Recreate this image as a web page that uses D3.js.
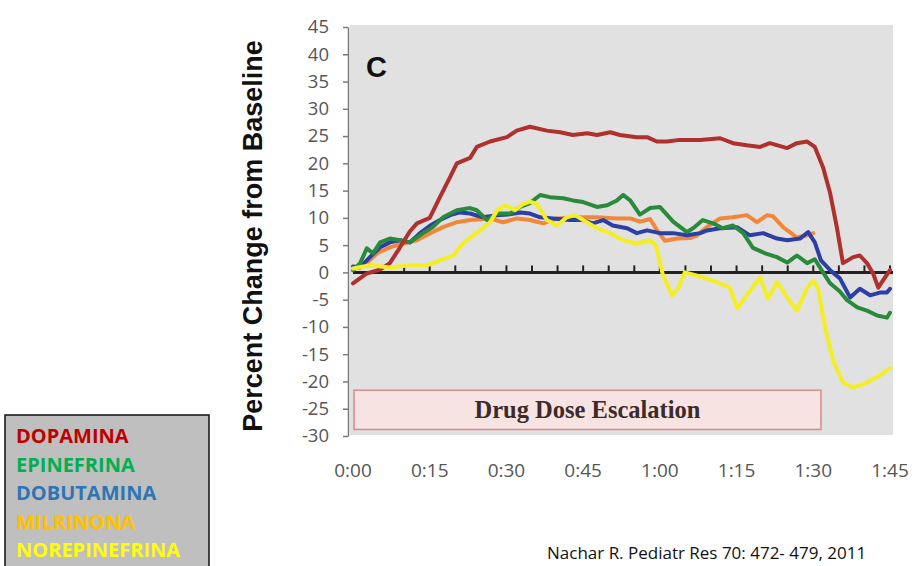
<!DOCTYPE html>
<html>
<head>
<meta charset="utf-8">
<script src="https://cdn.jsdelivr.net/npm/d3@7/dist/d3.min.js"></script>
<style>
  body { margin: 0; background: #fff; }
  svg { display: block; }
</style>
</head>
<body>
<div id="chart"></div>
<script>
      // minutes from start, percent change from baseline
      var dopamina = [[0,-2],[2.7,-0.2],[5.3,0.5],[7.2,1.7],[9.2,4.6],[11.1,7.5],[12.5,9],[15,10],[17,13.8],[19,17.5],[20.3,20],[22.9,21],[24.2,23],[26.8,24],[30.1,24.8],[32,26],[34.6,26.7],[37.9,26],[40.5,25.7],[43,25.2],[45.8,25.5],[47.7,25.2],[50.3,25.7],[52.2,25.2],[55.5,24.8],[57.5,24.8],[59.4,24],[61.4,24],[63.9,24.3],[67.9,24.3],[71.8,24.6],[74.3,23.7],[77,23.3],[79.6,23],[81.5,23.7],[84.9,22.8],[86.8,23.7],[88.8,24],[90.3,23],[91.9,19.3],[93.3,14.5],[94.6,8.3],[95.8,1.7],[97.8,2.8],[99.1,3.1],[100.5,1.7],[101.7,-0.2],[102.7,-2.8],[103.6,-1.5],[105,0.4]];
      var epinefrina = [[0,0.4],[1.4,1.7],[2.7,4.4],[3.9,3.5],[5.3,5.5],[7.2,6.2],[9.2,5.9],[11.1,5.5],[13.7,7.2],[15.6,8.3],[17.6,10.1],[20.3,11.4],[22.9,11.8],[24.2,11.4],[26.2,9.6],[28.2,10.8],[30.7,10.8],[32.7,12],[34.6,12.7],[36.6,14.2],[38.5,13.8],[41.1,13.6],[43,13.2],[45,12.9],[47.7,12],[49.7,12.3],[51.6,13.2],[52.8,14.2],[54.2,13.2],[56.1,10.6],[58.1,11.8],[60,12],[62.6,9.3],[65.3,7.4],[66.5,8.1],[68.4,9.6],[70.4,9],[72.3,8.1],[74.3,8.6],[76.3,7.2],[78.2,4.5],[80.6,3.5],[82.9,2.8],[84.9,1.8],[86.8,3.1],[88.8,1.7],[90.3,2.4],[91.9,0],[93.3,-2],[95.2,-3.5],[96.6,-5.1],[98.6,-6.4],[100.5,-7],[102.5,-7.9],[104.4,-8.3],[105,-7.4]];
      var dobutamina = [[0,1.1],[1.4,0.9],[3.3,2.8],[5.3,4.6],[7.2,5.5],[9.2,5.9],[11.1,5.5],[13.1,7.2],[15.1,8.6],[17,9.6],[19,10.5],[20.9,11],[22.9,10.8],[25.4,10.1],[28.2,10.5],[30.3,10.6],[32.7,11],[34.6,10.8],[36.6,10.1],[39.1,9.9],[42.4,9.6],[45,9.6],[46.9,9],[48.9,9.6],[50.8,8.6],[53.6,8.1],[55.5,7.2],[57.5,7.7],[60,7.2],[62.6,7.2],[65.3,6.8],[67.9,7.2],[69.2,7.7],[71.8,8.1],[75.1,8.3],[77.6,6.8],[80.2,7.2],[82.9,6.2],[84.9,5.9],[87.4,6.2],[89,7.4],[90.3,5.5],[91.5,2.2],[93.3,0.4],[95.2,-1.1],[97.2,-4.6],[99.1,-3],[101.1,-4.2],[103,-3.7],[104.4,-3.7],[105,-3]];
      var milrinona = [[0.8,0.9],[2.7,1.7],[4.7,3.5],[7.2,4.6],[9.8,5.3],[12.5,5.9],[15.1,7.2],[17.6,8.3],[20.3,9.2],[22.9,9.6],[26.8,9.9],[29.3,9.2],[32.1,9.9],[34.6,9.6],[37.2,9],[39.9,9.9],[43.8,10.1],[47.7,10.1],[51.6,9.9],[54.2,9.9],[56.1,9.3],[58.1,9.8],[59.6,7.5],[61,5.8],[63.4,6.2],[65.9,6.3],[67.3,6.8],[69.2,8.3],[71.8,9.9],[74.3,10.1],[77,10.5],[79,9.2],[81,10.5],[82.1,10.3],[84.1,8.3],[86.8,6.4],[88.8,6.8],[90,7.2]];
      var norepinefrina = [[0,0.7],[3.3,1.3],[7.2,0.9],[11.1,1.3],[14.5,1.3],[17,2.2],[19.6,3.1],[21.5,5.3],[23.5,6.8],[25.4,8.1],[26.8,9.2],[28.2,11.4],[29.7,12.3],[31.7,11.4],[33.2,12.5],[34.6,13],[36,12.5],[37.9,9.6],[39.9,8.6],[41.8,10.1],[43.4,10.5],[45,9.6],[47.7,8.1],[50.3,7.2],[52.8,5.9],[55.5,5.3],[58.1,5.9],[59.2,5],[60.6,-0.5],[62.4,-4.2],[63.6,-2.8],[64.9,0],[67.3,-0.6],[71.2,-1.8],[73.7,-2.8],[75.1,-6.6],[77,-4.2],[79.6,-0.9],[81.1,-4.8],[82.9,-1.8],[84.9,-4.6],[86.8,-7],[88.8,-2.8],[90,-1.5],[90.9,-2.8],[92.3,-10.1],[93.9,-16.2],[95.8,-20.2],[97.8,-21.1],[100.5,-20.2],[103,-18.9],[105,-17.6]];

      var seriesNames = ['DOPAMINA', 'EPINEFRINA', 'DOBUTAMINA', 'MILRINONA', 'NOREPINEFRINA'];
      var legendColors = ['#c00000', '#00b050', '#2e75b6', '#ffc000', '#ffff00'];
      var lineColors = ['#b0302e', '#2a8a3c', '#2b3fa6', '#f2873a', '#f4ee24'];
      var xTickLabels = ['0:00', '0:15', '0:30', '0:45', '1:00', '1:15', '1:30', '1:45'];
      var xTickMinutes = [0, 15, 30, 45, 60, 75, 90, 105];
      var yTickValues = [45, 40, 35, 30, 25, 20, 15, 10, 5, 0, -5, -10, -15, -20, -25, -30];
      var doseEscalation = [0.2, 91.5];

      var width = 914;
      var height = 566;

      var svg = d3.select('#chart').append('svg')
          .attr('width', width)
          .attr('height', height)
          .style('font-family', '"Open Sans", sans-serif');

      var xScale = d3.scaleLinear()
          .domain([0, 105])
          .range([353, 890]);

      var yScale = d3.scaleLinear()
          .domain([-30, 45])
          .range([436, 27]);

      // grey plot area
      svg.append('rect')
          .attr('x', xScale(0) - 3)
          .attr('y', yScale(45) - 2)
          .attr('width', xScale(105) - xScale(0) + 6)
          .attr('height', yScale(-30) - yScale(45) + 1)
          .attr('fill', '#e1e1e1');

      // left axis, plain hyphen for negatives like the original
      var yAxis = d3.axisLeft(yScale)
          .tickValues(yTickValues)
          .tickFormat(d => String(d))
          .tickSizeInner(5)
          .tickSizeOuter(0)
          .tickPadding(14);

      var yAxisG = svg.append('g')
          .attr('transform', 'translate(' + (xScale(0) - 5) + ', 0)')
          .call(yAxis);
      yAxisG.select('.domain').attr('stroke', '#7a7a7a').attr('stroke-width', 1.5);
      yAxisG.selectAll('.tick line').attr('stroke', '#7a7a7a').attr('stroke-width', 1.5);
      yAxisG.selectAll('.tick text')
          .attr('fill', '#555')
          .style('font-family', '"Open Sans", sans-serif')
          .style('font-size', '18.5px');

      // x labels, no axis line (the zero line carries the ticks)
      svg.append('g')
          .selectAll('text')
          .data(xTickMinutes)
          .enter()
          .append('text')
              .attr('x', d => xScale(d))
              .attr('y', 477)
              .attr('text-anchor', 'middle')
              .attr('fill', '#555')
              .style('font-size', '19px')
              .text((d, i) => xTickLabels[i]);

      // drug dose escalation band
      svg.append('rect')
          .attr('x', xScale(doseEscalation[0]))
          .attr('y', yScale(-21.6))
          .attr('width', xScale(doseEscalation[1]) - xScale(doseEscalation[0]))
          .attr('height', yScale(-28.8) - yScale(-21.6))
          .attr('fill', '#f8e3e3')
          .attr('stroke', '#d98b8b')
          .attr('stroke-width', 1.5);

      svg.append('text')
          .attr('x', (xScale(doseEscalation[0]) + xScale(doseEscalation[1])) / 2)
          .attr('y', 418)
          .attr('text-anchor', 'middle')
          .attr('fill', '#3b2b2b')
          .style('font-family', '"Liberation Serif", serif')
          .style('font-weight', 'bold')
          .style('font-size', '24.5px')
          .text('Drug Dose Escalation');

      // zero line with 5 minute ticks
      svg.append('line')
          .attr('x1', xScale(0))
          .attr('x2', xScale(105) + 3)
          .attr('y1', yScale(0))
          .attr('y2', yScale(0))
          .attr('stroke', '#222')
          .attr('stroke-width', 3);

      svg.append('g')
          .selectAll('line')
          .data(d3.range(5, 106, 5))
          .enter()
          .append('line')
              .attr('x1', d => xScale(d))
              .attr('x2', d => xScale(d))
              .attr('y1', yScale(0))
              .attr('y2', yScale(0) - 7)
              .attr('stroke', '#222')
              .attr('stroke-width', 2);

      // the five drug lines
      var line = d3.line()
          .x(d => xScale(d[0]))
          .y(d => yScale(d[1]));

      var allSeries = [dopamina, epinefrina, dobutamina, milrinona, norepinefrina];
      var drawOrder = [3, 2, 1, 0, 4];

      svg.append('g')
          .selectAll('path')
          .data(drawOrder)
          .enter()
          .append('path')
              .attr('d', i => line(allSeries[i]))
              .attr('fill', 'none')
              .attr('stroke', i => lineColors[i])
              .attr('stroke-width', 4)
              .attr('stroke-linejoin', 'round')
              .attr('stroke-linecap', 'round');

      // panel letter
      svg.append('text')
          .attr('x', 366)
          .attr('y', 77)
          .style('font-family', '"Liberation Sans", Arial, sans-serif')
          .style('font-weight', 'bold')
          .style('font-size', '29px')
          .attr('fill', '#111')
          .text('C');

      // y axis title
      svg.append('text')
          .attr('transform', 'rotate(-90)')
          .attr('x', -236)
          .attr('y', 262)
          .attr('text-anchor', 'middle')
          .style('font-family', '"Liberation Sans", Arial, sans-serif')
          .style('font-weight', 'bold')
          .style('font-size', '27px')
          .attr('fill', '#111')
          .text('Percent Change from Baseline');

      // legend box
      svg.append('rect')
          .attr('x', 5)
          .attr('y', 415)
          .attr('width', 204)
          .attr('height', 170)
          .attr('fill', '#bfbfbf')
          .attr('stroke', '#111')
          .attr('stroke-width', 1.5);

      svg.append('g')
          .selectAll('text')
          .data(seriesNames)
          .enter()
          .append('text')
              .attr('x', 16)
              .attr('y', (d, i) => 443 + i * 28.5)
              .attr('fill', (d, i) => legendColors[i])
              .style('font-weight', 'bold')
              .style('font-size', '20px')
              .text(d => d);

      // source note
      svg.append('text')
          .attr('x', 547)
          .attr('y', 559)
          .attr('fill', '#111')
          .style('font-size', '17px')
          .text('Nachar R. Pediatr Res 70: 472- 479, 2011');
</script>
</body>
</html>
